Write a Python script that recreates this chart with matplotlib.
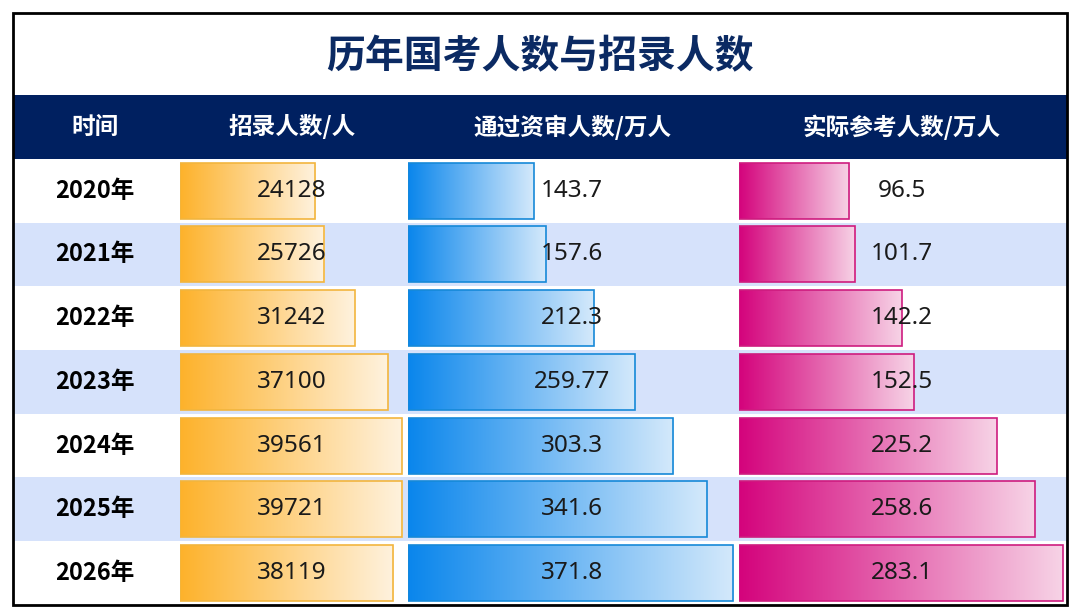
import numpy as np
import matplotlib
matplotlib.use("Agg")
import matplotlib.pyplot as plt
from matplotlib.colors import LinearSegmentedColormap
from matplotlib.patches import Rectangle
from matplotlib.transforms import blended_transform_factory

plt.rcParams['font.family'] = ['Noto Sans CJK SC', 'DejaVu Sans']
NUM_FONT = ['Noto Sans', 'Noto Sans CJK SC']

# ---------------- DATA ----------------
years = ['2020年', '2021年', '2022年', '2023年', '2024年', '2025年', '2026年']
hired = [24128, 25726, 31242, 37100, 39561, 39721, 38119]
passed = [143.7, 157.6, 212.3, 259.77, 303.3, 341.6, 371.8]
attended = [96.5, 101.7, 142.2, 152.5, 225.2, 258.6, 283.1]
passed_labels = ['143.7', '157.6', '212.3', '259.77', '303.3', '341.6', '371.8']
attended_labels = ['96.5', '101.7', '142.2', '152.5', '225.2', '258.6', '283.1']

title = '历年国考人数与招录人数'
headers = ['时间', '招录人数/人', '通过资审人数/万人', '实际参考人数/万人']

# ---------------- STYLE ----------------
W, H = 1080, 607
NAVY = '#002060'
STRIPE = '#D6E2FB'

def px_box(x0, y0, x1, y1):
    # pixel box (top-left origin) -> figure fraction rect
    return [x0 / W, 1 - y1 / H, (x1 - x0) / W, (y1 - y0) / H]

fig = plt.figure(figsize=(W / 100, H / 100), dpi=100)
fig.patch.set_facecolor('white')

# table background: header row + 7 striped rows
ax_tab = fig.add_axes(px_box(13, 95, 1067, 605))
ax_tab.set_xlim(13, 1067)
ax_tab.set_ylim(len(years) - 0.5, -1.5)
ax_tab.axis('off')
ax_tab.axhspan(-1.5, -0.5, color=NAVY, lw=0)
for i in range(len(years)):
    if i % 2 == 1:
        ax_tab.axhspan(i - 0.5, i + 0.5, color=STRIPE, lw=0)

# bar columns: (data, labels, x range in px, xmax, left colour, right colour, edge)
columns = [
    (hired, [str(v) for v in hired], (180, 404), 40000, '#FDB22B', '#FFF2DE', '#F2B53E'),
    (passed, passed_labels, (408, 736), 375, '#0A86EC', '#D4E9FB', '#1689D8'),
    (attended, attended_labels, (739, 1064), 284, '#D4037C', '#F7D3E6', '#CE1C7F'),
]

bar_h = 0.875
col_centers = [95]
grad = np.linspace(0, 1, 256).reshape(1, -1)
for values, labels, (x0, x1), xmax, c_left, c_right, c_edge in columns:
    ax = fig.add_axes(px_box(x0, 158.75, x1, 605))
    cmap = LinearSegmentedColormap.from_list('g', [c_left, c_right])
    trans = blended_transform_factory(ax.transAxes, ax.transData)
    for i, v in enumerate(values):
        ax.imshow(grad, extent=[0, v, i + bar_h / 2, i - bar_h / 2],
                  cmap=cmap, aspect='auto', interpolation='bicubic', zorder=1)
        ax.add_patch(Rectangle((0, i - bar_h / 2), v, bar_h, fill=False,
                               ec=c_edge, lw=1.2, zorder=2))
        ax.text(0.5, i, labels[i], transform=trans, family=NUM_FONT,
                ha='center', va='center', fontsize=17.5, color='#1a1a1a', zorder=3)
    ax.set_xlim(0, xmax)
    ax.set_ylim(len(values) - 0.5, -0.5)
    ax.axis('off')
    ax.patch.set_alpha(0)
    col_centers.append((x0 + x1) / 2)

# headers and year labels
for cx, h in zip(col_centers, headers):
    ax_tab.text(cx, -1, h, ha='center', va='center', fontsize=17,
                fontweight='bold', color='white')
for i, y in enumerate(years):
    ax_tab.text(95, i, y, ha='center', va='center', fontsize=17,
                fontweight='bold', color='black')

fig.text(0.5, 1 - 57 / H, title, ha='center', va='center', fontsize=28,
         fontweight='heavy', color='#0B2A63')

# outer frame
fig.patches.append(Rectangle((13 / W, 1 - 605 / H), 1054 / W, 592 / H,
                             transform=fig.transFigure, fill=False,
                             ec='black', lw=2, zorder=10))

fig.savefig('out.png', dpi=100)
